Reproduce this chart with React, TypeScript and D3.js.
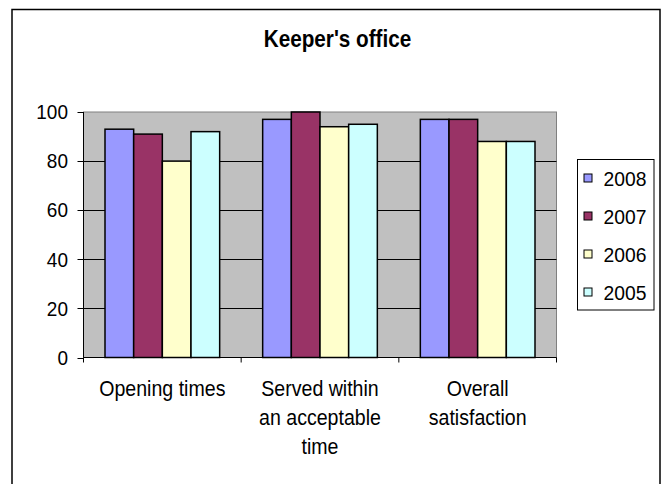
import React from "react";
import * as d3 from "d3";

const title = "Keeper's office";
const categories = ["Opening times", "Served within an acceptable time", "Overall satisfaction"];
const categoryLines = [["Opening times"], ["Served within", "an acceptable", "time"], ["Overall", "satisfaction"]];
const seriesNames = ["2008", "2007", "2006", "2005"];
const values2008 = [93, 97, 97];
const values2007 = [91, 100, 97];
const values2006 = [80, 94, 88];
const values2005 = [92, 95, 88];
const seriesColors = ["#9999FF", "#993366", "#FFFFCC", "#CCFFFF"];
const yTicks = [0, 20, 40, 60, 80, 100];

const seriesValues = [values2008, values2007, values2006, values2005];

const W = 663;
const H = 484;
const plot = { left: 83.5, right: 556.5, top: 112, bottom: 357.5 };
const FONT = "'Liberation Sans', Arial, Helvetica, sans-serif";

function SText(props: {
  x: number;
  y: number;
  sx: number;
  size: number;
  anchor?: string;
  weight?: string;
  dy?: string;
  children: React.ReactNode;
}) {
  return (
    <g transform={`translate(${props.x},${props.y}) scale(${props.sx},1)`}>
      <text
        x={0}
        y={0}
        dy={props.dy}
        textAnchor={props.anchor || "start"}
        fontSize={props.size}
        fontWeight={props.weight || "normal"}
        fill="#000"
      >
        {props.children}
      </text>
    </g>
  );
}

export default function App() {
  const x = d3.scaleBand<string>().domain(categories).range([plot.left, plot.right]).paddingInner(0).paddingOuter(0);
  const bw = x.bandwidth();
  const gap = bw * (1.5 / 5.5);
  const xs = d3.scaleBand<string>().domain(seriesNames).range([gap / 2, bw - gap / 2]).padding(0);
  const y = d3.scaleLinear().domain([0, 100]).range([plot.bottom, plot.top]);

  const boundaries = [...categories.map((c) => x(c) as number), plot.right];

  return (
    <div style={{ position: "absolute", left: 0, top: 0 }}>
      <svg width={W} height={H} style={{ display: "block" }} fontFamily={FONT}>
        <rect x={0} y={0} width={W} height={H} fill="#fff" />
        <rect x={12} y={9.5} width={648} height={H + 20} fill="#fff" stroke="#000" strokeWidth={1.5} />
        <SText x={337.5} y={46.5} sx={0.9} size={23} weight="bold" anchor="middle">
          {title}
        </SText>
        {/* plot area */}
        <rect x={plot.left} y={plot.top} width={plot.right - plot.left} height={plot.bottom - plot.top} fill="#C0C0C0" stroke="#808080" strokeWidth={1} />
        {yTicks.filter((t) => t > 0 && t < 100).map((t) => (
          <line key={t} x1={plot.left} x2={plot.right} y1={Math.round(y(t)) + 0.5} y2={Math.round(y(t)) + 0.5} stroke="#000" strokeWidth={1} />
        ))}
        {/* bars */}
        {seriesNames.map((s, si) =>
          categories.map((c, ci) => (
            <rect
              key={s + c}
              x={(x(c) as number) + (xs(s) as number)}
              y={y(seriesValues[si][ci])}
              width={xs.bandwidth()}
              height={plot.bottom - y(seriesValues[si][ci])}
              fill={seriesColors[si]}
              stroke="#000"
              strokeWidth={1.5}
            />
          ))
        )}
        {/* y axis */}
        <line x1={plot.left} x2={plot.left} y1={plot.top} y2={plot.bottom} stroke="#000" strokeWidth={1} />
        {yTicks.map((t) => (
          <g key={t}>
            <line x1={plot.left - 6} x2={plot.left} y1={Math.round(y(t)) + 0.5} y2={Math.round(y(t)) + 0.5} stroke="#000" strokeWidth={1} />
            <SText x={68} y={y(t)} sx={0.95} size={20} dy="0.36em" anchor="end">
              {t}
            </SText>
          </g>
        ))}
        {/* x axis */}
        <line x1={plot.left} x2={plot.right} y1={plot.bottom} y2={plot.bottom} stroke="#000" strokeWidth={1} />
        {boundaries.map((b, i) => (
          <line key={i} x1={b} x2={b} y1={plot.bottom} y2={plot.bottom + 5} stroke="#000" strokeWidth={1} />
        ))}
        {categories.map((c, ci) =>
          categoryLines[ci].map((ln, li) => (
            <SText key={c + li} x={(x(c) as number) + bw / 2} y={395.5 + li * 29} sx={0.89} size={22} anchor="middle">
              {ln}
            </SText>
          ))
        )}
        {/* legend */}
        <rect x={577.5} y={159.5} width={76.5} height={150.5} fill="#fff" stroke="#000" strokeWidth={1} />
        {seriesNames.map((s, si) => (
          <g key={s}>
            <rect x={584} y={174 + si * 38} width={8} height={8} fill={seriesColors[si]} stroke="#000" strokeWidth={1} />
            <SText x={603.5} y={186 + si * 38} sx={0.92} size={21}>
              {s}
            </SText>
          </g>
        ))}
      </svg>
    </div>
  );
}
